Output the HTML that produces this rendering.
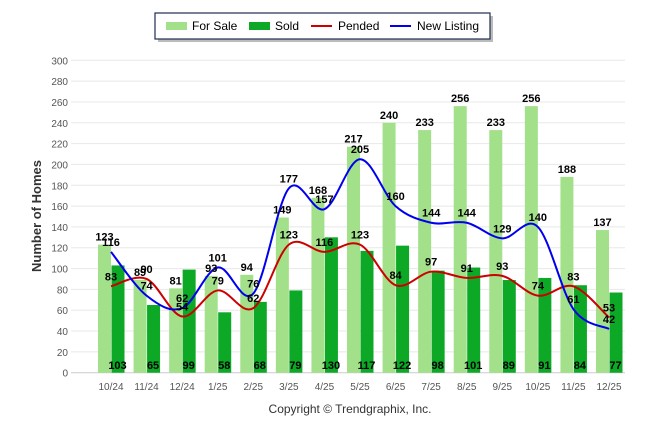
<!DOCTYPE html>
<html><head><meta charset="utf-8"><style>
body{margin:0;background:#fff;font-family:"Liberation Sans",sans-serif}
svg text{font-family:"Liberation Sans",sans-serif}
</style></head><body>
<svg id="c" width="646" height="434" xmlns="http://www.w3.org/2000/svg">
<g>
<rect x="158" y="16" width="335" height="26" fill="#bbb"/>
<rect x="155" y="13" width="335" height="26" fill="#fff" stroke="#1f2d4f" stroke-width="1.2"/>
<rect x="166" y="22" width="21" height="8" fill="#a2e08a"/>
<text x="192" y="30" font-size="12">For Sale</text>
<rect x="249" y="22" width="21" height="8" fill="#0ca826"/>
<text x="275" y="30" font-size="12">Sold</text>
<rect x="311" y="25" width="21" height="2" fill="#cc0000"/>
<text x="338" y="30" font-size="12">Pended</text>
<rect x="390" y="25" width="21" height="2" fill="#0000ee"/>
<text x="417" y="30" font-size="12">New Listing</text>
</g>
<text transform="translate(41,216) rotate(-90)" text-anchor="middle" font-size="13" font-weight="bold" fill="#333">Number of Homes</text>
<text x="350" y="413" text-anchor="middle" font-size="12" fill="#333">Copyright © Trendgraphix, Inc.</text>
<g id="grid"></g><g id="bars"></g><g id="lines"></g><g id="labels"></g>
</svg>
<script>
const categories=["10/24","11/24","12/24","1/25","2/25","3/25","4/25","5/25","6/25","7/25","8/25","9/25","10/25","11/25","12/25"];
const forSale=[123,89,81,93,94,149,168,217,240,233,256,233,256,188,137];
const sold=[103,65,99,58,68,79,130,117,122,98,101,89,91,84,77];
const pended=[83,90,54,79,62,123,116,123,84,97,91,93,74,83,53];
const newListing=[116,74,62,101,76,177,157,205,160,144,144,129,140,61,42];
const yTicks=[0,20,40,60,80,100,120,140,160,180,200,220,240,260,280,300];
const NS="http://www.w3.org/2000/svg";
const x0=111,x1=609,yb=372.7,yt=60.3,ymax=300,bw=13;
const X=i=>x0+(x1-x0)*i/(categories.length-1);
const Y=v=>yb-(yb-yt)*v/ymax;
function mk(p,t,a,txt){const e=document.createElementNS(NS,t);for(const k in a)e.setAttribute(k,a[k]);if(txt!==undefined)e.textContent=txt;document.getElementById(p).appendChild(e);return e;}
yTicks.forEach(v=>{
 const l=mk('grid','line',{x1:71,x2:625,y1:Y(v),y2:Y(v),stroke:v===0?'#ccc':'#e8e8e8'});
 
 
 const t=mk('grid','text',{x:68,y:Y(v)+4,'text-anchor':'end','font-size':10,fill:'#555'},v);
 
 
});
categories.forEach((c,i)=>{
 const t=mk('grid','text',{x:X(i),y:390,'text-anchor':'middle','font-size':10,fill:'#555'},c);
 
 
 const a=mk('bars','rect',{x:X(i)-bw,y:Y(forSale[i]),width:bw,height:yb-Y(forSale[i]),fill:'#a2e08a'});
 
 
 const b=mk('bars','rect',{x:X(i)+0.5,y:Y(sold[i]),width:bw,height:yb-Y(sold[i]),fill:'#0ca826'});
 
 
 const l1=mk('labels','text',{x:X(i)-bw/2,y:Y(forSale[i])-4,'text-anchor':'middle','font-size':11,'font-weight':'bold'},forSale[i]);
 
 
 const l2=mk('labels','text',{x:X(i)+bw/2,y:369,'text-anchor':'middle','font-size':11,'font-weight':'bold'},sold[i]);
 
 
 const l3=mk('labels','text',{x:X(i),y:Y(pended[i])-6,'text-anchor':'middle','font-size':11,'font-weight':'bold'},pended[i]);
 
 
 const l4=mk('labels','text',{x:X(i),y:Y(newListing[i])-6,'text-anchor':'middle','font-size':11,'font-weight':'bold'},newListing[i]);
 
 
});
function spline(d){
 const p=d.map((v,i)=>[X(i),Y(v)]);let s='M'+p[0][0]+','+p[0][1];
 for(let i=0;i<p.length-1;i++){
  const a=p[Math.max(i-1,0)],b=p[i],c=p[i+1],e=p[Math.min(i+2,p.length-1)];
  const k=1/6;
  s+=' C'+(b[0]+(c[0]-a[0])*k)+','+(b[1]+(c[1]-a[1])*k)+' '+(c[0]-(e[0]-b[0])*k)+','+(c[1]-(e[1]-b[1])*k)+' '+c[0]+','+c[1];
 }return s;}
const pl=mk('lines','path',{d:spline(pended),fill:'none',stroke:'#cc0000','stroke-width':2});


const nl=mk('lines','path',{d:spline(newListing),fill:'none',stroke:'#0000ee','stroke-width':2});


</script>
</body></html>
